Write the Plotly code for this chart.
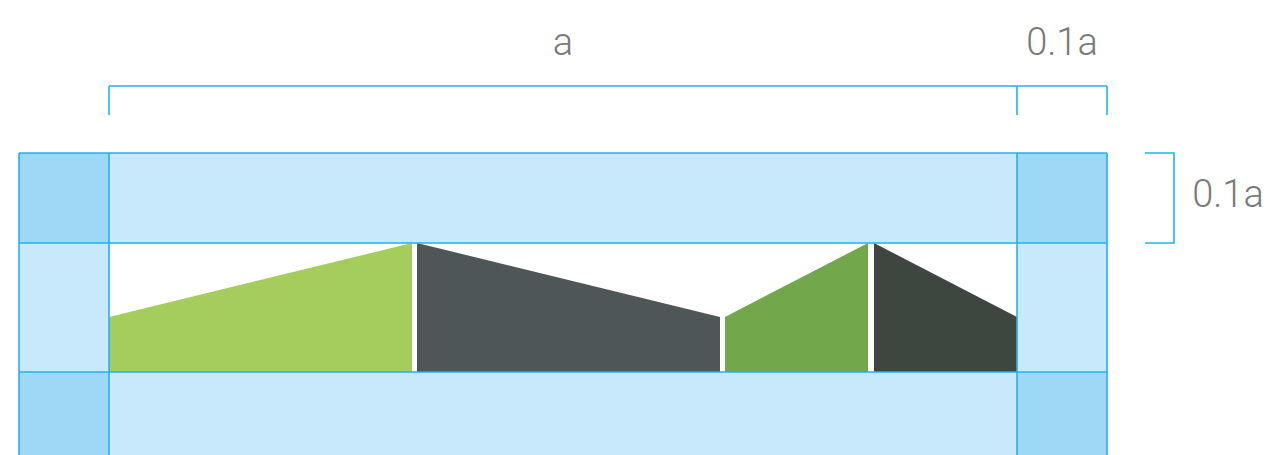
import plotly.graph_objects as go

# Grid (clear-space) boundaries in chart units
grid_x = [19, 109, 1017, 1107]
grid_y = [153, 243, 372, 462]

# Logo segments (polygons)
seg_names = ["seg1", "seg2", "seg3", "seg4"]
seg_x = [[109, 109, 412, 412], [417, 417, 720, 720], [725, 725, 868, 868], [874, 874, 1017, 1017]]
seg_y = [[372, 317, 243, 372], [372, 243, 317, 372], [372, 317, 243, 372], [372, 243, 317, 372]]
seg_colors = ["#A5CD5C", "#4F5657", "#72A84B", "#3E4640"]

# Dimension annotations
dim_top_y = 86
dim_tick_bottom = 115
dim_top_ticks = [109, 1017, 1107]
dim_right_x = [1145, 1174]
labels = ["a", "0.1a", "0.1a"]
label_x = [563, 1062, 1228]
label_y = [45, 45, 197]

BLUE = "#22B2EA"
EDGE_FILL = "#C8E9FB"
CORNER_FILL = "#9DD9F7"
PAGE_OFFSET = 8  # default body margin of the html page

fig = go.Figure()

# clear-space cells
for i in range(3):
    for j in range(3):
        if i == 1 and j == 1:
            continue
        x0, x1 = grid_x[i], grid_x[i + 1]
        y0, y1 = grid_y[j], grid_y[j + 1]
        corner = (i != 1 and j != 1)
        fig.add_trace(go.Scatter(
            x=[x0, x1, x1, x0, x0], y=[y0, y0, y1, y1, y0],
            mode="lines", fill="toself",
            fillcolor=CORNER_FILL if corner else EDGE_FILL,
            line=dict(width=0), hoverinfo="skip", showlegend=False))

# logo segments
for n, xs, ys, c in zip(seg_names, seg_x, seg_y, seg_colors):
    fig.add_trace(go.Scatter(x=xs + [xs[0]], y=ys + [ys[0]], mode="lines", fill="toself",
                             fillcolor=c, line=dict(width=0, color=c), name=n,
                             hoverinfo="skip", showlegend=False))

# grid lines
for gx in grid_x:
    fig.add_trace(go.Scatter(x=[gx, gx], y=[grid_y[0], grid_y[-1]], mode="lines",
                             line=dict(color=BLUE, width=1.6), hoverinfo="skip", showlegend=False))
for gy in grid_y[:3]:
    fig.add_trace(go.Scatter(x=[grid_x[0], grid_x[-1]], y=[gy, gy], mode="lines",
                             line=dict(color=BLUE, width=1.6), hoverinfo="skip", showlegend=False))

# top dimension bracket
fig.add_trace(go.Scatter(x=[dim_top_ticks[0], dim_top_ticks[-1]], y=[dim_top_y, dim_top_y], mode="lines",
                         line=dict(color=BLUE, width=1.6), hoverinfo="skip", showlegend=False))
for tx in dim_top_ticks:
    fig.add_trace(go.Scatter(x=[tx, tx], y=[dim_top_y, dim_tick_bottom], mode="lines",
                             line=dict(color=BLUE, width=1.6), hoverinfo="skip", showlegend=False))

# right dimension bracket
fig.add_trace(go.Scatter(x=[dim_right_x[0], dim_right_x[1], dim_right_x[1], dim_right_x[0]],
                         y=[grid_y[0], grid_y[0], grid_y[1], grid_y[1]], mode="lines",
                         line=dict(color=BLUE, width=1.6), hoverinfo="skip", showlegend=False))

# labels
fig.add_trace(go.Scatter(x=label_x, y=label_y, mode="text", text=labels,
                         textfont=dict(family="Roboto", size=38, color="#7A7A7A", weight=300),
                         hoverinfo="skip", showlegend=False))

fig.update_xaxes(range=[PAGE_OFFSET, 1271 + PAGE_OFFSET], visible=False, fixedrange=True)
fig.update_yaxes(range=[455 + PAGE_OFFSET, PAGE_OFFSET], visible=False, fixedrange=True)
fig.update_layout(width=1271, height=455, margin=dict(l=0, r=0, t=0, b=0),
                  plot_bgcolor="white", paper_bgcolor="white")

fig.write_html("out.html")
